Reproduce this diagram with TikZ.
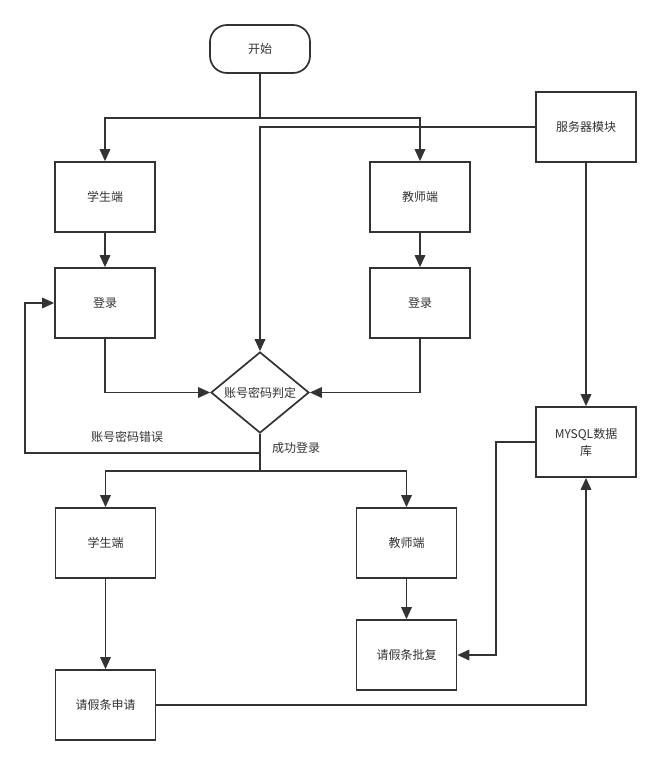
\documentclass[tikz,border=0pt]{standalone}
\usepackage{fontspec}
\setmainfont{Noto Sans CJK SC}
\usetikzlibrary{arrows.meta,shapes.geometric}
\definecolor{ln}{HTML}{333333}
\begin{document}
\begin{tikzpicture}[x=1pt,y=-1pt,
  lbl/.style={font=\fontsize{12}{17}\selectfont,text=ln},
  box/.style={lbl,draw=ln,line width=1.7pt,minimum width=100pt,minimum height=70pt,inner sep=0pt,align=center},
  con/.style={draw=ln,line width=1.7pt},
  arr/.style={con,-{Triangle[length=12pt,width=10.5pt]}}]
\useasboundingbox (0,0) rectangle (661,765);
\fill[white] (0,0) rectangle (661,765);
\node[box,rounded corners=17pt,minimum height=48pt] (start) at (260,49) {开始};
\node[box] (s1) at (105,197) {学生端};
\node[box] (t1) at (420,197) {教师端};
\node[box] (l1) at (105,303) {登录};
\node[box] (l2) at (420,303) {登录};
\node[box] (srv) at (586,127) {服务器模块};
\node[box] (db) at (586,442) {MYSQL数据\\库};
\node[draw=ln,line width=1.7pt,diamond,minimum width=98pt,minimum height=81pt,inner sep=0pt] (d) at (260,392.5) {};
\node[lbl] (dt) at (d.center) {账号密码判定};
\node[box] (s2) at (105.5,543) {学生端};
\node[box] (t2) at (406.5,543) {教师端};
\node[box] (s3) at (105.5,705) {请假条申请};
\node[box] (t3) at (406.5,655) {请假条批复};
\node[lbl] (errl) at (127,437) {账号密码错误};
\node[lbl] (okl) at (296,448) {成功登录};
\coordinate (b1) at (260,118);
\coordinate (b2) at (260,471);
\coordinate (e1) at (260,453);
\coordinate (e2) at (25,453);
\coordinate (m1) at (496,442);
\draw[con] (start.south) -- (b1);
\draw[arr] (b1) -| (s1.north);
\draw[arr] (b1) -| (t1.north);
\draw[arr] (srv.west) -| (d.north);
\draw[arr] (s1) -- (l1);
\draw[arr] (t1) -- (l2);
\draw[arr] (l1.south) |- (d.west);
\draw[arr] (l2.south) |- (d.east);
\draw[con] (d.south) -- (b2);
\draw[arr] (b2) -| (s2.north);
\draw[arr] (b2) -| (t2.north);
\draw[arr] (e1) -- (e2) |- (l1.west);
\draw[arr] (s2) -- (s3);
\draw[arr] (t2) -- (t3);
\draw[arr] (srv) -- (db);
\draw[arr] (db.west) -- (m1) |- (t3.east);
\draw[arr] (s3.east) -| (db.south);
\end{tikzpicture}
\end{document}
